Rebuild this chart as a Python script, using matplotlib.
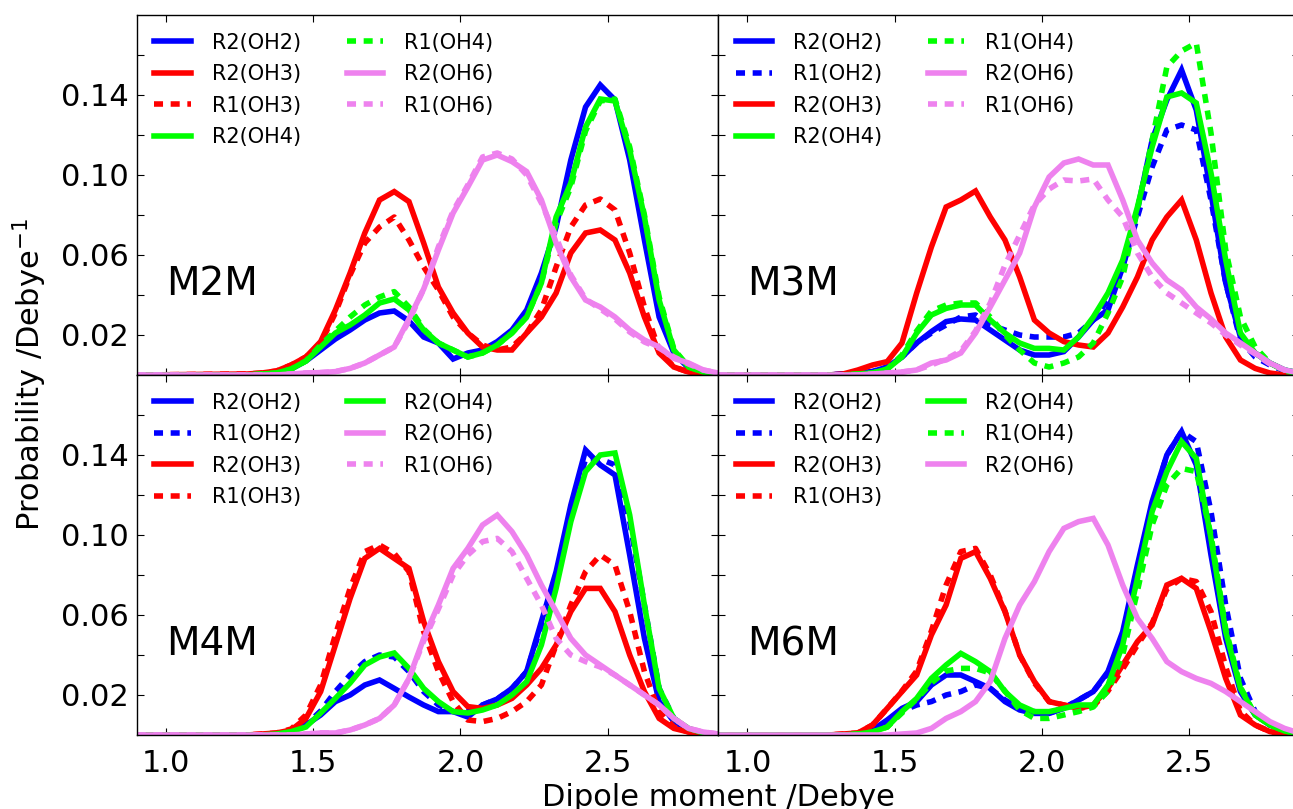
import matplotlib
matplotlib.use("Agg")
import matplotlib.pyplot as plt

plt.rcParams["font.family"] = "DejaVu Sans"
plt.rcParams["lines.scale_dashes"] = False

# bin centres (Debye)
dipole = [0.9, 1.275, 1.325, 1.375, 1.425, 1.475, 1.525, 1.575, 1.625, 1.675, 1.725,
          1.775, 1.825, 1.875, 1.925, 1.975, 2.025, 2.075, 2.125, 2.175, 2.225, 2.275,
          2.325, 2.375, 2.425, 2.475, 2.525, 2.575, 2.625, 2.675, 2.725, 2.775, 2.825, 2.875]

# M2M
m2m_r2_oh2 = [0, 0, 0.0005, 0.001, 0.003, 0.007, 0.0125, 0.018, 0.0225, 0.0275, 0.031, 0.032, 0.027, 0.019, 0.016, 0.008, 0.011, 0.0125, 0.0167, 0.0225, 0.0325, 0.051, 0.074, 0.1075, 0.134, 0.145, 0.1375, 0.1075, 0.0675, 0.029, 0.011, 0.0035, 0.001, 0]
m2m_r2_oh3 = [0, 0.0005, 0.001, 0.002, 0.005, 0.009, 0.0167, 0.0325, 0.051, 0.071, 0.0875, 0.0917, 0.0867, 0.066, 0.044, 0.031, 0.021, 0.014, 0.0125, 0.0125, 0.021, 0.029, 0.041, 0.061, 0.071, 0.0725, 0.0675, 0.051, 0.029, 0.011, 0.004, 0.0015, 0.0005, 0]
m2m_r1_oh3 = [0, 0.0005, 0.001, 0.002, 0.005, 0.009, 0.016, 0.031, 0.05, 0.066, 0.074, 0.079, 0.0675, 0.054, 0.0425, 0.029, 0.021, 0.015, 0.0125, 0.014, 0.021, 0.0325, 0.054, 0.074, 0.085, 0.088, 0.0825, 0.061, 0.034, 0.0125, 0.004, 0.0015, 0.0005, 0]
m2m_r2_oh4 = [0, 0, 0.0005, 0.001, 0.003, 0.007, 0.014, 0.021, 0.025, 0.030, 0.036, 0.038, 0.0325, 0.0225, 0.016, 0.0125, 0.009, 0.011, 0.015, 0.021, 0.029, 0.046, 0.079, 0.096, 0.124, 0.138, 0.137, 0.1125, 0.079, 0.0375, 0.0125, 0.004, 0.0015, 0.0005]
m2m_r1_oh4 = [0, 0, 0.0005, 0.001, 0.003, 0.007, 0.015, 0.022, 0.029, 0.035, 0.039, 0.0417, 0.034, 0.023, 0.016, 0.0125, 0.009, 0.011, 0.015, 0.021, 0.029, 0.046, 0.076, 0.094, 0.122, 0.137, 0.138, 0.114, 0.08, 0.039, 0.013, 0.004, 0.0015, 0.0005]
m2m_r2_oh6 = [0, 0, 0, 0, 0.0005, 0.001, 0.0012, 0.0017, 0.0033, 0.006, 0.01, 0.014, 0.028, 0.043, 0.0625, 0.081, 0.094, 0.1075, 0.11, 0.1067, 0.1017, 0.0875, 0.066, 0.049, 0.0375, 0.034, 0.029, 0.0225, 0.0175, 0.014, 0.0083, 0.006, 0.0025, 0.001]
m2m_r1_oh6 = [0, 0, 0, 0, 0.0005, 0.001, 0.0012, 0.0017, 0.0033, 0.006, 0.01, 0.014, 0.027, 0.043, 0.064, 0.082, 0.095, 0.109, 0.111, 0.108, 0.1, 0.086, 0.069, 0.05, 0.038, 0.033, 0.028, 0.0215, 0.0165, 0.0135, 0.009, 0.0055, 0.0025, 0.001]

# M3M
m3m_r2_oh2 = [0, 0, 0.0005, 0.001, 0.0017, 0.004, 0.009, 0.016, 0.0217, 0.0267, 0.028, 0.0275, 0.0225, 0.0175, 0.0125, 0.010, 0.010, 0.0117, 0.019, 0.0275, 0.0325, 0.054, 0.0825, 0.1175, 0.1375, 0.1525, 0.1325, 0.091, 0.046, 0.019, 0.011, 0.006, 0.0025, 0.001]
m3m_r1_oh2 = [0, 0, 0.0005, 0.001, 0.0017, 0.004, 0.009, 0.016, 0.021, 0.025, 0.029, 0.03, 0.025, 0.0225, 0.02, 0.019, 0.019, 0.019, 0.021, 0.0275, 0.0375, 0.054, 0.079, 0.104, 0.1225, 0.125, 0.1225, 0.0875, 0.046, 0.0175, 0.009, 0.005, 0.002, 0.0005]
m3m_r2_oh3 = [0, 0, 0.0005, 0.0025, 0.005, 0.0067, 0.016, 0.041, 0.064, 0.084, 0.0875, 0.092, 0.079, 0.0675, 0.049, 0.0275, 0.021, 0.0167, 0.015, 0.014, 0.021, 0.034, 0.049, 0.0675, 0.079, 0.0875, 0.0675, 0.041, 0.019, 0.0075, 0.0033, 0.001, 0, 0]
m3m_r2_oh4 = [0, 0, 0, 0.0005, 0.001, 0.003, 0.009, 0.021, 0.030, 0.0333, 0.035, 0.035, 0.0275, 0.021, 0.016, 0.0133, 0.0133, 0.0125, 0.019, 0.029, 0.041, 0.0575, 0.084, 0.114, 0.139, 0.141, 0.136, 0.101, 0.0575, 0.021, 0.011, 0.006, 0.0025, 0.001]
m3m_r1_oh4 = [0, 0, 0, 0.0005, 0.001, 0.003, 0.01, 0.022, 0.032, 0.035, 0.036, 0.036, 0.029, 0.02, 0.0125, 0.006, 0.004, 0.006, 0.009, 0.016, 0.031, 0.049, 0.0825, 0.1175, 0.154, 0.162, 0.166, 0.121, 0.0625, 0.029, 0.014, 0.006, 0.002, 0.0005]
m3m_r2_oh6 = [0, 0, 0, 0, 0.0005, 0.001, 0.0015, 0.0025, 0.006, 0.0075, 0.011, 0.021, 0.034, 0.0475, 0.061, 0.084, 0.099, 0.106, 0.108, 0.105, 0.105, 0.0875, 0.0675, 0.056, 0.0475, 0.0425, 0.034, 0.028, 0.021, 0.016, 0.011, 0.006, 0.0025, 0.001]
m3m_r1_oh6 = [0, 0, 0, 0, 0.0005, 0.001, 0.0015, 0.0025, 0.005, 0.008, 0.012, 0.022, 0.036, 0.055, 0.07, 0.085, 0.093, 0.0975, 0.097, 0.098, 0.0875, 0.079, 0.061, 0.049, 0.041, 0.036, 0.031, 0.026, 0.02, 0.015, 0.0105, 0.0055, 0.0025, 0.001]

# M4M
m4m_r2_oh2 = [0, 0, 0, 0.0005, 0.0017, 0.005, 0.01, 0.0167, 0.02, 0.025, 0.0275, 0.0233, 0.019, 0.015, 0.0117, 0.0117, 0.009, 0.015, 0.018, 0.0233, 0.0317, 0.0567, 0.0817, 0.115, 0.1425, 0.135, 0.13, 0.09, 0.0483, 0.0167, 0.0067, 0.0025, 0.001, 0]
m4m_r1_oh2 = [0, 0, 0, 0.0005, 0.0017, 0.005, 0.012, 0.0217, 0.03, 0.0367, 0.04, 0.039, 0.0317, 0.0217, 0.015, 0.0117, 0.0117, 0.015, 0.018, 0.0233, 0.0317, 0.055, 0.08, 0.112, 0.138, 0.138, 0.135, 0.1067, 0.065, 0.0233, 0.0083, 0.003, 0.001, 0]
m4m_r2_oh3 = [0, 0, 0.0005, 0.001, 0.0025, 0.0083, 0.0217, 0.045, 0.0683, 0.0883, 0.0933, 0.0883, 0.0833, 0.0567, 0.0367, 0.0217, 0.0142, 0.0133, 0.015, 0.0183, 0.025, 0.0333, 0.045, 0.0617, 0.0733, 0.0733, 0.0617, 0.04, 0.0217, 0.0083, 0.0033, 0.0015, 0.0005, 0]
m4m_r1_oh3 = [0, 0, 0.0005, 0.001, 0.003, 0.01, 0.025, 0.05, 0.0733, 0.0917, 0.095, 0.0908, 0.0817, 0.0517, 0.0317, 0.0167, 0.0075, 0.0067, 0.0083, 0.0117, 0.0167, 0.025, 0.045, 0.065, 0.0817, 0.09, 0.085, 0.0617, 0.0317, 0.0117, 0.004, 0.0015, 0.0005, 0]
m4m_r2_oh4 = [0, 0, 0, 0.0005, 0.0017, 0.004, 0.011, 0.0183, 0.026, 0.035, 0.039, 0.041, 0.0333, 0.0233, 0.0167, 0.0117, 0.011, 0.0125, 0.015, 0.02, 0.0267, 0.045, 0.0733, 0.1067, 0.1317, 0.14, 0.141, 0.11, 0.065, 0.0233, 0.0083, 0.0033, 0.001, 0.0005]
m4m_r2_oh6 = [0, 0, 0, 0, 0, 0.0005, 0.001, 0.001, 0.0025, 0.005, 0.0083, 0.015, 0.0283, 0.0483, 0.065, 0.0833, 0.0933, 0.105, 0.11, 0.1017, 0.09, 0.075, 0.0617, 0.0483, 0.04, 0.035, 0.03, 0.025, 0.02, 0.015, 0.0083, 0.0033, 0.0015, 0.0005]
m4m_r1_oh6 = [0, 0, 0, 0, 0, 0.0005, 0.001, 0.001, 0.0025, 0.005, 0.0083, 0.015, 0.028, 0.047, 0.063, 0.08, 0.09, 0.0967, 0.0983, 0.0917, 0.0783, 0.065, 0.0483, 0.04, 0.0367, 0.034, 0.03, 0.025, 0.02, 0.015, 0.0083, 0.0033, 0.0015, 0.0005]

# M6M
m6m_r2_oh2 = [0, 0, 0, 0.0005, 0.0025, 0.0075, 0.0133, 0.0167, 0.025, 0.03, 0.03, 0.0267, 0.0233, 0.0167, 0.0125, 0.0108, 0.0108, 0.0133, 0.0175, 0.0217, 0.0317, 0.0517, 0.085, 0.1167, 0.14, 0.1517, 0.135, 0.09, 0.0483, 0.0217, 0.01, 0.005, 0.002, 0.0005]
m6m_r1_oh2 = [0, 0, 0, 0.0005, 0.0025, 0.007, 0.012, 0.015, 0.0167, 0.02, 0.0217, 0.025, 0.0233, 0.0175, 0.0133, 0.0117, 0.011, 0.0135, 0.0175, 0.0217, 0.031, 0.05, 0.083, 0.115, 0.14, 0.1517, 0.1467, 0.1117, 0.065, 0.0283, 0.0117, 0.005, 0.002, 0.0005]
m6m_r2_oh3 = [0, 0, 0.0005, 0.001, 0.005, 0.0133, 0.0217, 0.03, 0.05, 0.065, 0.0883, 0.0917, 0.0783, 0.0617, 0.04, 0.0267, 0.0167, 0.015, 0.0133, 0.015, 0.0233, 0.035, 0.0467, 0.055, 0.075, 0.0783, 0.0733, 0.0517, 0.0283, 0.01, 0.005, 0.0017, 0.0005, 0]
m6m_r1_oh3 = [0, 0, 0.0005, 0.001, 0.005, 0.0133, 0.022, 0.032, 0.052, 0.075, 0.0917, 0.0933, 0.08, 0.062, 0.04, 0.026, 0.0167, 0.015, 0.0133, 0.0145, 0.022, 0.033, 0.045, 0.056, 0.073, 0.0783, 0.0767, 0.0617, 0.034, 0.012, 0.005, 0.0017, 0.0005, 0]
m6m_r2_oh4 = [0, 0, 0, 0.0005, 0.0015, 0.004, 0.0117, 0.0183, 0.0283, 0.035, 0.0408, 0.0367, 0.0317, 0.0217, 0.015, 0.0117, 0.0117, 0.0133, 0.015, 0.015, 0.025, 0.045, 0.0783, 0.1117, 0.1317, 0.1467, 0.1383, 0.0983, 0.0517, 0.0233, 0.01, 0.005, 0.002, 0.0005]
m6m_r1_oh4 = [0, 0, 0, 0.0005, 0.0015, 0.004, 0.011, 0.018, 0.026, 0.032, 0.0333, 0.0333, 0.031, 0.022, 0.0125, 0.0083, 0.0083, 0.01, 0.0117, 0.014, 0.022, 0.04, 0.072, 0.105, 0.125, 0.1333, 0.1317, 0.1, 0.053, 0.024, 0.01, 0.005, 0.002, 0.0005]
m6m_r2_oh6 = [0, 0, 0, 0, 0, 0, 0.0005, 0.001, 0.0033, 0.0083, 0.0117, 0.0167, 0.0267, 0.0483, 0.065, 0.0767, 0.0917, 0.1033, 0.1067, 0.1083, 0.095, 0.075, 0.0583, 0.0483, 0.0367, 0.0317, 0.0283, 0.0258, 0.0217, 0.0167, 0.0117, 0.0067, 0.0033, 0.001]

panels = [
    ("M2M", [("R2(OH2)", m2m_r2_oh2), ("R2(OH3)", m2m_r2_oh3), ("R1(OH3)", m2m_r1_oh3),
             ("R2(OH4)", m2m_r2_oh4), ("R1(OH4)", m2m_r1_oh4), ("R2(OH6)", m2m_r2_oh6),
             ("R1(OH6)", m2m_r1_oh6)]),
    ("M3M", [("R2(OH2)", m3m_r2_oh2), ("R1(OH2)", m3m_r1_oh2), ("R2(OH3)", m3m_r2_oh3),
             ("R2(OH4)", m3m_r2_oh4), ("R1(OH4)", m3m_r1_oh4), ("R2(OH6)", m3m_r2_oh6),
             ("R1(OH6)", m3m_r1_oh6)]),
    ("M4M", [("R2(OH2)", m4m_r2_oh2), ("R1(OH2)", m4m_r1_oh2), ("R2(OH3)", m4m_r2_oh3),
             ("R1(OH3)", m4m_r1_oh3), ("R2(OH4)", m4m_r2_oh4), ("R2(OH6)", m4m_r2_oh6),
             ("R1(OH6)", m4m_r1_oh6)]),
    ("M6M", [("R2(OH2)", m6m_r2_oh2), ("R1(OH2)", m6m_r1_oh2), ("R2(OH3)", m6m_r2_oh3),
             ("R1(OH3)", m6m_r1_oh3), ("R2(OH4)", m6m_r2_oh4), ("R1(OH4)", m6m_r1_oh4),
             ("R2(OH6)", m6m_r2_oh6)]),
]

colors = {"OH2": "#0000ff", "OH3": "#ff0000", "OH4": "#00ff00", "OH6": "#ee82ee"}

W, H = 1293, 809
fig = plt.figure(figsize=(W / 100, H / 100), dpi=100)

# panel boxes in pixels: left, top, right, bottom
boxes = [(136.7, 15, 718, 375), (718, 15, 1299.3, 375),
         (136.7, 375, 718, 735), (718, 375, 1299.3, 735)]

for i, ((name, series), (x0, y0, x1, y1)) in enumerate(zip(panels, boxes)):
    ax = fig.add_axes([x0 / W, 1 - y1 / H, (x1 - x0) / W, (y1 - y0) / H])
    for label, vals in series:
        color = colors[label[3:6]]
        ls = "-" if label.startswith("R2") else (0, (6.5, 5.5))
        ax.plot(dipole, vals, color=color, lw=4, linestyle=ls, label=label,
                solid_joinstyle="miter")
    ax.set_xlim(0.9, 2.875)
    ax.set_ylim(0, 0.18)
    ax.set_xticks([1.0, 1.5, 2.0, 2.5])
    ax.set_yticks([0.02, 0.04, 0.06, 0.08, 0.10, 0.12, 0.14, 0.16])
    ax.set_yticklabels(["0.02", "", "0.06", "", "0.10", "", "0.14", ""])
    ax.tick_params(direction="in", top=True, right=True, length=5, width=0.8,
                   labelsize=22)
    ax.tick_params(axis="x", pad=10)
    ax.tick_params(axis="y", pad=6)
    if i % 2 == 1:
        ax.tick_params(labelleft=False)
    if i < 2:
        ax.tick_params(labelbottom=False)
    for sp in ax.spines.values():
        sp.set_linewidth(1.0)
    ax.text(1.0, 0.04, name, fontsize=28, ha="left", va="baseline")
    ax.legend(loc="upper left", ncol=2, frameon=False, fontsize=15,
              handlelength=1.75, handletextpad=1.0, columnspacing=2.2,
              labelspacing=0.55, borderaxespad=0.45, borderpad=0.4)

fig.text(30 / W, 1 - 375 / H, "Probability /Debye$^{-1}$", rotation=90,
         ha="center", va="center", fontsize=22)
fig.text(718 / W, 1 - 797 / H, "Dipole moment /Debye", ha="center", va="center",
         fontsize=22)

fig.savefig("out.png", dpi=100)
